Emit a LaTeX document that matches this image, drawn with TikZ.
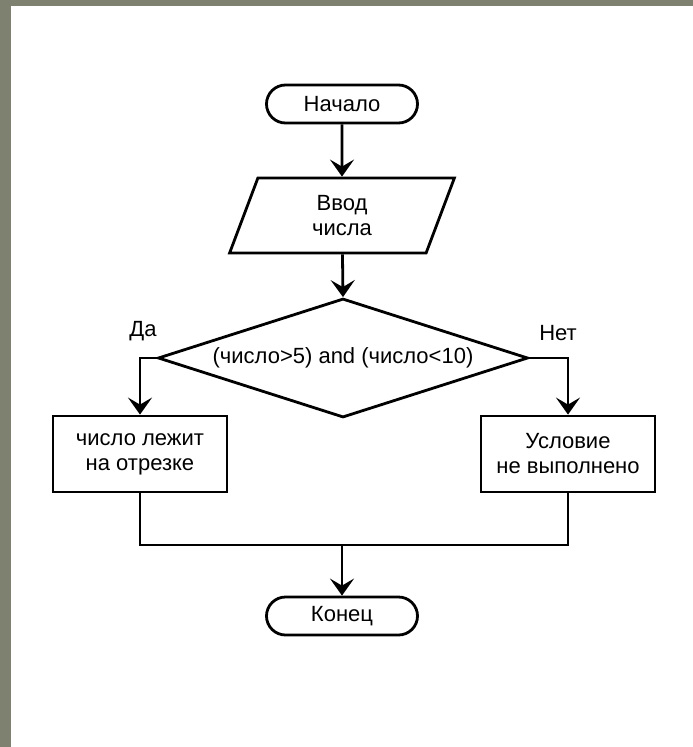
\documentclass[tikz,border=0pt]{standalone}
\usepackage{fontspec}
\setmainfont{Liberation Sans}
\usetikzlibrary{shapes.geometric,arrows.meta}
\definecolor{frame}{RGB}{126,129,112}
\begin{document}
\begin{tikzpicture}[x=1pt,y=-1pt,
  every node/.style={font=\fontsize{22}{25}\selectfont, align=center},
  shp/.style={draw=black, line width=2.8pt, inner sep=0pt},
  term/.style={shp, rectangle, rounded corners=19pt, minimum width=151pt, minimum height=38pt},
  io/.style={shp, trapezium, trapezium left angle=76, trapezium right angle=104,
             trapezium stretches=true, minimum width=225pt, minimum height=75pt},
  cond/.style={shp, diamond, shape aspect=3.11, minimum width=370pt, minimum height=119pt},
  proc/.style={shp, rectangle, minimum width=174pt, minimum height=76pt},
  flow/.style={line width=2.8pt, -{Stealth[length=17pt,width=24pt,inset=7pt]}},
  link/.style={line width=2.8pt}]
  % page and the grey strip along the left and top
  \useasboundingbox (0,0) rectangle (693,747);
  \fill[white] (0,0) rectangle (693,747);
  \fill[frame] (0,0) rectangle (11,747);
  \fill[frame] (0,0) rectangle (693,6);

  % blocks
  \node[term] (start) at (342,104) {Начало};
  \node[io]   (input) at (342,215.5) {Ввод\\числа};
  \node[cond] (check) at (343,358) {(число>5) and (число<10)};
  \node[proc] (yes)   at (140,454) {число лежит\\на отрезке};
  \node[proc] (no)    at (568,454) {Условие\\не выполнено};
  \node[term] (stop)  at (342,616) {Конец};
  \coordinate (join) at (342,545);

  % branch labels
  \node (lyes) at (143,331) {Да};
  \node (lno)  at (558,333) {Нет};

  % connectors
  \draw[flow] (start) -- (input);
  \draw[flow] (input) -- (check.north);
  \draw[flow] (check.west) -| (yes.north);
  \draw[flow] (check.east) -| (no.north);
  \draw[link] (yes.south) |- (join);
  \draw[link] (no.south) |- (join);
  \draw[flow] (join) -- (stop.north);
\end{tikzpicture}
\end{document}
